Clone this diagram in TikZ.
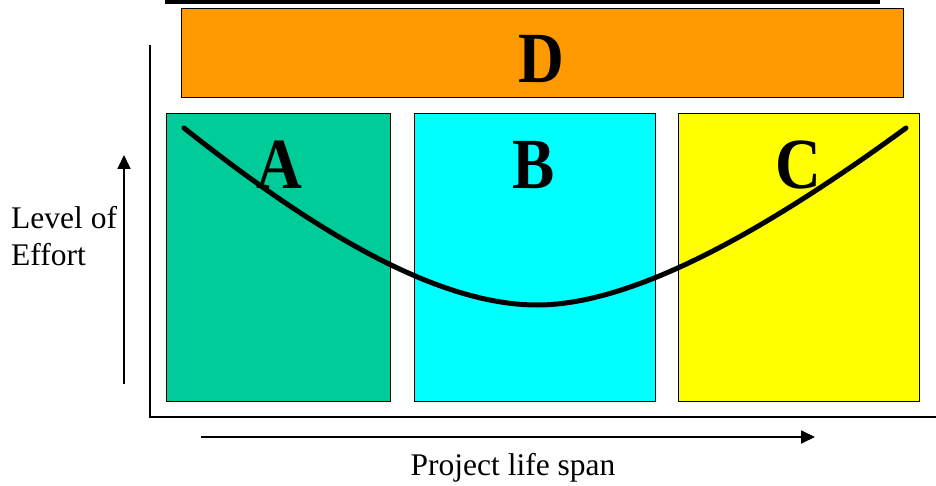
\documentclass[tikz,border=0pt]{standalone}
\usepackage{fontspec}
\setmainfont{Liberation Serif}
\usetikzlibrary{arrows.meta}
\definecolor{dorange}{HTML}{FF9900}
\definecolor{agreen}{HTML}{00CC99}
\definecolor{bcyan}{HTML}{00FFFF}
\definecolor{cyellow}{HTML}{FFFF00}
\tikzset{
  phasebox/.style={draw=black, line width=1.4pt, anchor=north west, inner sep=0pt},
  biglabel/.style={font=\fontsize{72}{72}\selectfont\bfseries, xscale=0.88, transform shape, inner sep=0pt},
  txt/.style={font=\fontsize{31.5}{37}\selectfont, inner sep=0pt},
  axis/.style={line width=1.8pt},
  arr/.style={line width=1.8pt, -{Triangle[length=14pt,width=13pt]}},
  effort/.style={line width=5pt}
}
\begin{document}
\begin{tikzpicture}[x=1pt,y=-1pt]
\useasboundingbox (0,0) rectangle (936,486);
% top rule
\coordinate (t1) at (165,2.5);
\coordinate (t2) at (880,2.5);
\draw[line width=4pt] (t1) -- (t2);
% axes
\coordinate (ay) at (150,45);
\coordinate (o) at (150,417);
\coordinate (ax) at (936,417);
\draw[axis] (ay) -- (o) -- (ax);
% boxes
\node[phasebox, fill=dorange, minimum width=722pt, minimum height=89pt] (D) at (181,8) {};
\node[phasebox, fill=agreen, minimum width=224pt, minimum height=288pt] (A) at (166,113) {};
\node[phasebox, fill=bcyan, minimum width=241pt, minimum height=288pt] (B) at (414,113) {};
\node[phasebox, fill=cyellow, minimum width=241pt, minimum height=288pt] (C) at (678,113) {};
% labels
\node[biglabel] (Dl) at (541,59) {D};
\node[biglabel] (Al) at (279,165) {A};
\node[biglabel] (Bl) at (534,165) {B};
\node[biglabel] (Cl) at (798,165) {C};
% curve
\coordinate (c0) at (184,128);
\coordinate (cm) at (537,305);
\coordinate (c1) at (906,128);
\draw[effort, line cap=round] (c0) .. controls (300,220) and (430,305) .. (cm)
  .. controls (640,305) and (780,220) .. (c1);
% arrows
\coordinate (u0) at (124,384);
\coordinate (u1) at (124,155);
\draw[arr] (u0) -- (u1);
\coordinate (r0) at (201,437);
\coordinate (r1) at (815,437);
\draw[arr] (r0) -- (r1);
% texts
\node[txt, anchor=west, align=left] (lev) at (11,236) {Level of\\Effort};
\node[txt] (pls) at (513,468) {Project life span};
\end{tikzpicture}
\end{document}
